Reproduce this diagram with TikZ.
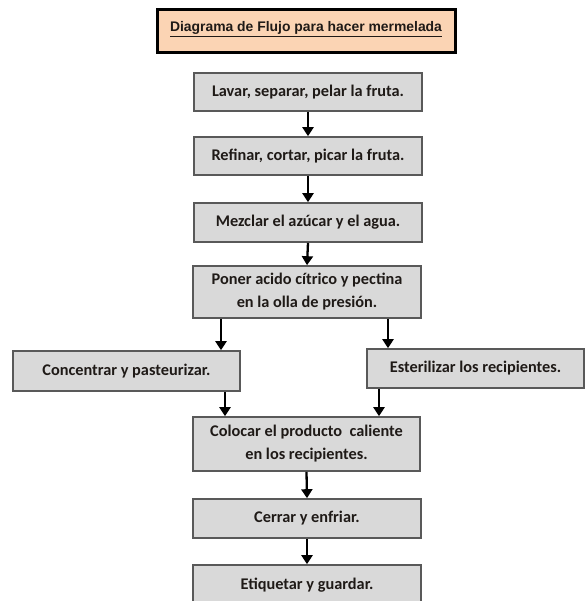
\documentclass[tikz,border=0pt]{standalone}
\usepackage{fontspec}
\setmainfont{Carlito}
\newfontfamily\titlefont{Liberation Sans}
\usetikzlibrary{arrows.meta}
\definecolor{boxfill}{HTML}{D9D9D9}
\definecolor{boxline}{HTML}{595959}
\definecolor{peach}{HTML}{FBD4B4}
\definecolor{txt}{HTML}{1F1A17}
\tikzset{
  stepbox/.style={draw=boxline, line width=1.6pt, fill=boxfill, minimum width=228pt,
    align=center, inner sep=0pt, font=\bfseries\fontsize{16.3}{23}\selectfont, text=txt},
  titlebox/.style={draw=black, line width=3pt, fill=peach, minimum width=298pt, minimum height=43pt,
    inner sep=0pt},
  titletext/.style={font=\titlefont\bfseries\fontsize{13.9}{16}\selectfont, text=txt, inner sep=0pt},
  arr/.style={draw=black, line width=2.3pt, -{Triangle[width=11pt,length=9pt]}}
}
\begin{document}
\begin{tikzpicture}[x=1pt,y=1pt]
\useasboundingbox (0,0) rectangle (585,-601);
\node[titlebox] (t) at (306,-31.5) {};
\node[titletext] (tt) at (306,-29) {\underline{Diagrama de Flujo para hacer mermelada}};
\node[stepbox, minimum height=38pt] (b1) at (308,-92) {Lavar, separar, pelar la fruta.};
\node[stepbox, minimum height=38pt] (b2) at (308,-156) {Refinar, cortar, picar la fruta.};
\node[stepbox, minimum height=39pt] (b3) at (308,-222.5) {Mezclar el azúcar y el agua.};
\node[stepbox, minimum height=52pt] (b4) at (307,-292) {Poner acido cítrico y pectina\\en la olla de presión.};
\node[stepbox, minimum height=40pt, minimum width=227pt] (l) at (126.5,-371) {\raisebox{3pt}{Concentrar y pasteurizar.}};
\node[stepbox, minimum height=39pt, minimum width=217pt] (r) at (475.5,-368.5) {\raisebox{2pt}{Esterilizar los recipientes.}};
\node[stepbox, minimum height=54pt, minimum width=227pt] (b5) at (306.5,-444) {Colocar el producto\ \ caliente\\en los recipientes.};
\node[stepbox, minimum height=39pt] (b6) at (307,-518.5) {Cerrar y enfriar.};
\node[stepbox, minimum height=40pt] (b7) at (307,-585) {\raisebox{2pt}{Etiquetar y guardar.}};
\draw[arr] (b1.south) -- (b2.north);
\draw[arr] (b2.south) -- (b3.north);
\draw[arr] (b3.south) -- (b4.north);
\draw[arr] ([xshift=-86pt]b4.south) -- ([xshift=-86pt]b4.south |- l.north);
\draw[arr] ([xshift=81pt]b4.south) -- ([xshift=81pt]b4.south |- r.north);
\draw[arr] ([xshift=-81.5pt]b5.north |- l.south) -- ([xshift=-81.5pt]b5.north);
\draw[arr] ([xshift=72.5pt]b5.north |- r.south) -- ([xshift=72.5pt]b5.north);
\draw[arr] (b5.south) -- (b6.north);
\draw[arr] (b6.south) -- (b7.north);
\end{tikzpicture}
\end{document}
